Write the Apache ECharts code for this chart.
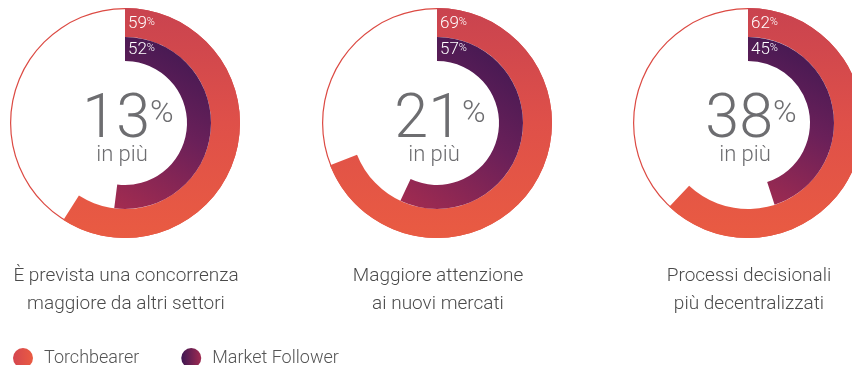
<!DOCTYPE html>
<html>
<head>
<meta charset="utf-8">
<script src="https://cdn.jsdelivr.net/npm/echarts@6/dist/echarts.min.js"></script>
<style>
  html, body { margin: 0; padding: 0; background: #ffffff; }
  #chart { width: 852px; height: 365px; }
</style>
</head>
<body>
<div id="chart"></div>
<script>
// Survey items, one pair of rings per item
const categories = [
  'È prevista una concorrenza\nmaggiore da altri settori',
  'Maggiore attenzione\nai nuovi mercati',
  'Processi decisionali\npiù decentralizzati'
];
const seriesNames = ['Torchbearer', 'Market Follower'];
const torchbearer = [59, 69, 62];
const marketFollower = [52, 57, 45];
const centerCaption = 'in più';

// Layout
const centersX = [125, 437, 748];
const centerY = 123;
const rOuter = [86, 115];
const rInner = [62, 86];
const FONT = 'Roboto, "Liberation Sans", sans-serif';

const grad = echarts.graphic.LinearGradient;
const outerFill = () => new grad(0, 0, 0, 1, [
  { offset: 0, color: '#c9434f' },
  { offset: 0.5, color: '#df5049' },
  { offset: 1, color: '#e95b42' }
]);
const innerFill = () => new grad(1, 0, 0, 1, [
  { offset: 0, color: '#3a1751' },
  { offset: 0.5, color: '#6a2059' },
  { offset: 1, color: '#a42c50' }
]);

const blank = { color: 'rgba(0,0,0,0)', borderWidth: 0 };
const series = [];
const graphic = [];

categories.forEach((cat, i) => {
  const cx = centersX[i];
  const t = torchbearer[i];
  const m = marketFollower[i];
  const common = {
    type: 'pie',
    center: [cx, centerY],
    startAngle: 90,
    clockwise: true,
    silent: true,
    label: { show: false },
    labelLine: { show: false },
    emphasis: { disabled: true },
    animation: false
  };
  // thin outline of the full outer circle
  series.push(Object.assign({}, common, {
    radius: [rOuter[1] - 1.2, rOuter[1]],
    data: [{ value: 1, name: '', itemStyle: { color: '#dc4a43', borderWidth: 0 } }]
  }));
  series.push(Object.assign({}, common, {
    name: seriesNames[0],
    radius: rOuter,
    data: [
      { value: t, name: seriesNames[0], itemStyle: { color: outerFill(), borderWidth: 0 } },
      { value: 100 - t, name: 'rest', itemStyle: blank }
    ]
  }));
  series.push(Object.assign({}, common, {
    name: seriesNames[1],
    radius: rInner,
    data: [
      { value: m, name: seriesNames[1], itemStyle: { color: innerFill(), borderWidth: 0 } },
      { value: 100 - m, name: 'rest', itemStyle: blank }
    ]
  }));

  // value labels at the start of each arc
  const ringLabel = (v, r) => ({
    type: 'text',
    x: cx + 3,
    y: centerY - (r[0] + r[1]) / 2 + 1,
    z: 10,
    style: {
      text: '{v|' + v + '}{p|%}',
      verticalAlign: 'middle',
      align: 'left',
      rich: {
        v: { fontFamily: FONT, fontWeight: 300, fontSize: 17, fill: '#ffffff', color: '#ffffff' },
        p: { fontFamily: FONT, fontWeight: 300, fontSize: 11, fill: '#ffffff', color: '#ffffff', padding: [0, 0, 3, 0] }
      }
    }
  });
  graphic.push(ringLabel(t, rOuter));
  graphic.push(ringLabel(m, rInner));

  // uplift of Torchbearer over Market Follower
  const uplift = Math.round((t / m - 1) * 100);
  graphic.push({
    type: 'text',
    x: cx + 3,
    y: 122,
    z: 10,
    style: {
      text: '{n|' + uplift + '}{p|%}',
      align: 'center',
      verticalAlign: 'middle',
      rich: {
        n: { fontFamily: FONT, fontWeight: 300, fontSize: 61, fill: '#6d6d70', color: '#6d6d70' },
        p: { fontFamily: FONT, fontWeight: 300, fontSize: 32, fill: '#6d6d70', color: '#6d6d70', padding: [0, 0, 16, 0] }
      }
    }
  });
  graphic.push({
    type: 'text',
    x: cx - 3,
    y: 155,
    z: 10,
    style: {
      text: centerCaption,
      align: 'center',
      verticalAlign: 'middle',
      font: '300 22px ' + FONT,
      fill: '#6d6d70'
    }
  });
  graphic.push({
    type: 'text',
    x: cx + 1,
    y: 262,
    z: 10,
    style: {
      text: cat,
      align: 'center',
      verticalAlign: 'top',
      font: '300 19px ' + FONT,
      lineHeight: 28,
      fill: '#4a4a4a'
    }
  });
});

const chart = echarts.init(document.getElementById('chart'), null, { renderer: 'canvas' });
chart.setOption({
  backgroundColor: '#ffffff',
  animation: false,
  legend: {
    left: 8,
    top: 343,
    icon: 'circle',
    itemWidth: 20,
    itemHeight: 20,
    itemGap: 42,
    selectedMode: false,
    textStyle: { fontFamily: FONT, fontWeight: 300, fontSize: 18, color: '#555555', padding: [0, 0, 0, 6] },
    data: [
      { name: seriesNames[0], itemStyle: { color: new grad(0, 0, 1, 0, [{ offset: 0, color: '#d4464f' }, { offset: 1, color: '#ea5b42' }]) } },
      { name: seriesNames[1], itemStyle: { color: new grad(0, 0, 1, 0, [{ offset: 0, color: '#3d1752' }, { offset: 1, color: '#a02b51' }]) } }
    ]
  },
  series: series,
  graphic: graphic
});
</script>
</body>
</html>
